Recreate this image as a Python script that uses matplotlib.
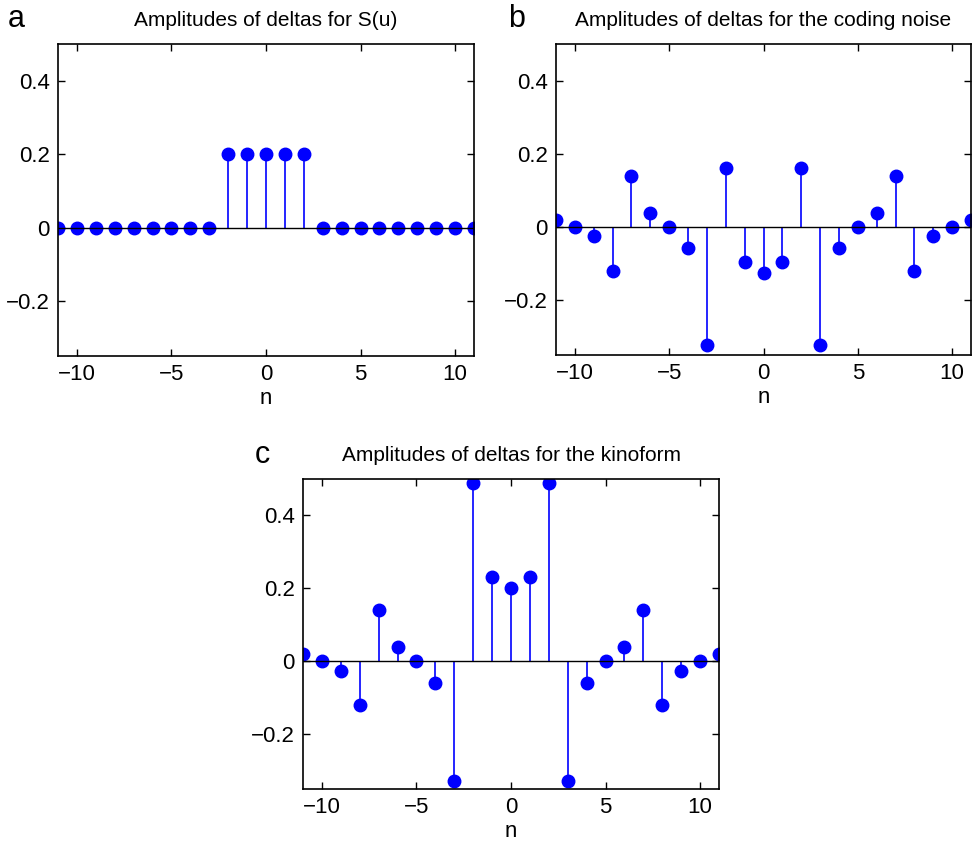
import matplotlib
matplotlib.use('Agg')
import matplotlib.pyplot as plt
import numpy as np

plt.rcParams['font.family'] = ['Liberation Sans', 'DejaVu Sans']

n = np.arange(-11, 12)

# amplitudes
s_u = [0, 0, 0, 0, 0, 0, 0, 0, 0, 0.2, 0.2, 0.2, 0.2, 0.2, 0, 0, 0, 0, 0, 0, 0, 0, 0]
noise = [0.02, 0, -0.026, -0.121, 0.14, 0.039, 0, -0.058, -0.323, 0.16, -0.096, -0.127,
         -0.096, 0.16, -0.323, -0.058, 0, 0.039, 0.14, -0.121, -0.026, 0, 0.02]
kinoform = [0.02, 0, -0.026, -0.121, 0.14, 0.039, 0, -0.058, -0.327, 0.49, 0.231, 0.2,
            0.231, 0.49, -0.327, -0.058, 0, 0.039, 0.14, -0.121, -0.026, 0, 0.02]

titles = ['Amplitudes of deltas for S(u)',
          'Amplitudes of deltas for the coding noise',
          'Amplitudes of deltas for the kinoform']
letters = ['a', 'b', 'c']

W, H = 972, 843
fig = plt.figure(figsize=(W / 100, H / 100), dpi=100)

# axes boxes in pixels: left, top, right, bottom
boxes = [(58, 44, 474, 356), (556, 44, 971, 355), (303, 479, 719, 789)]
letter_pos = [(8, 19), (508, 19), (255, 455)]

for data, title, box, letter, lp in zip([s_u, noise, kinoform], titles, boxes, letters, letter_pos):
    l, t, r, b = box
    ax = fig.add_axes([l / W, 1 - b / H, (r - l) / W, (b - t) / H])
    markers, stems, base = ax.stem(n, data, basefmt='k-')
    plt.setp(markers, color='blue', markersize=9)
    plt.setp(stems, color='blue', linewidth=1.2)
    plt.setp(base, color='black', linewidth=1.0)
    ax.set_xlim(-11, 11)
    ax.set_ylim(-0.35, 0.5)
    ax.set_xticks([-10, -5, 0, 5, 10])
    ax.set_yticks([-0.2, 0, 0.2, 0.4])
    ax.set_yticklabels(['\u22120.2', '0', '0.2', '0.4'])
    ax.set_xticklabels(['\u221210', '\u22125', '0', '5', '10'])
    ax.tick_params(direction='in', top=True, right=True, labelsize=16, length=5, width=1)
    ax.tick_params(axis='x', pad=6)
    ax.tick_params(axis='y', pad=6)
    for sp in ax.spines.values():
        sp.set_linewidth(1.2)
    ax.set_xlabel('n', fontsize=16, labelpad=2)
    ax.set_title(title, fontsize=15, pad=13)
    fig.text(lp[0] / W, 1 - lp[1] / H, letter, fontsize=22, va='center', ha='left')

fig.savefig('out.png', dpi=100)
